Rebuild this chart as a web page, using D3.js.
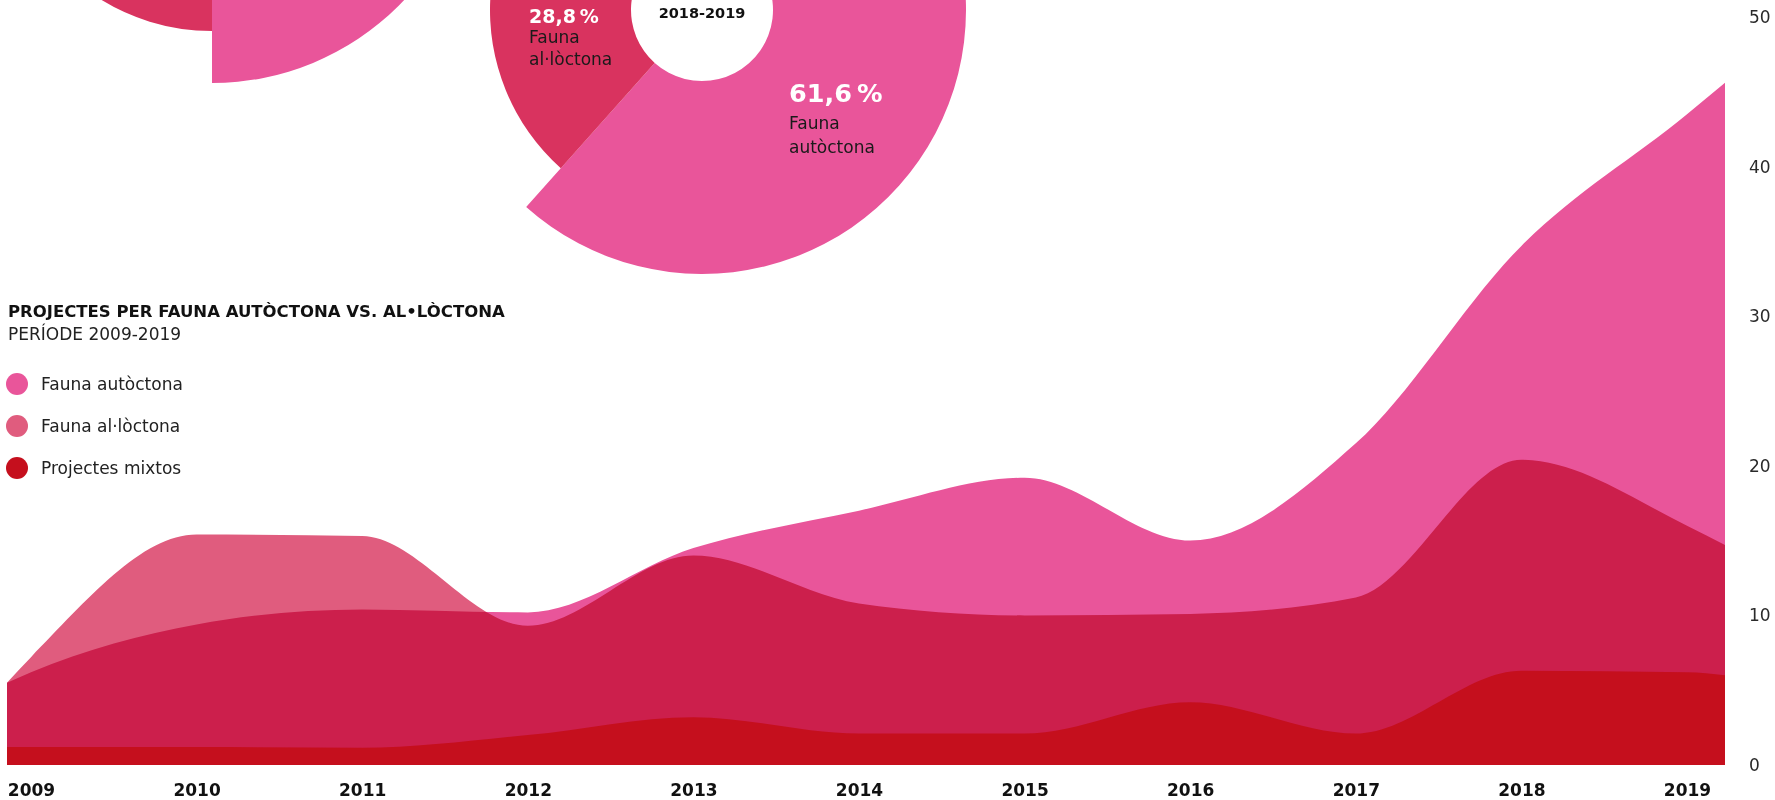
<!DOCTYPE html>
<html><head><meta charset="utf-8">
<script src="https://cdn.jsdelivr.net/npm/d3@7"></script>
<style>
html,body{margin:0;padding:0;background:#fff;overflow:hidden;}
svg{display:block;}
</style></head><body>
<svg id="chart" width="1775" height="800"></svg>
<script>
// ---------- DATA ----------
const years = [2009, 2010, 2011, 2012, 2013, 2014, 2015, 2016, 2017, 2018, 2019];
const autoctona = [6.2, 9.4, 10.4, 10.2, 14.5, 17.0, 19.2, 15.0, 21.5, 34.7, 43.5];
const alloctona = [7.2, 15.4, 15.3, 9.3, 14.0, 10.8, 10.0, 10.1, 11.2, 20.4, 16.0];
const mixtos    = [1.2, 1.2, 1.15, 2.0, 3.2, 2.1, 2.1, 4.2, 2.1, 6.3, 6.2];
// values where the areas meet the left / right edges of the plot (aut, al, mix)
const edgeStart = [5.5, 5.5, 1.2];
const edgeEnd   = [45.6, 14.7, 6.0];
const yTicks = [0, 10, 20, 30, 40, 50];
const seriesNames = ["Fauna autòctona", "Fauna al·lòctona", "Projectes mixtos"];
const donutPrev = [50.0, 38.0, 12.0];   // earlier period (mostly outside the view)
const donutLast = [61.6, 28.8, 9.6];    // 2018-2019
const donutLastTitle = "2018-2019";
const title = "PROJECTES PER FAUNA AUTÒCTONA VS. AL•LÒCTONA";
const subtitle = "PERÍODE 2009-2019";

// ---------- STYLE ----------
const FONT = '"DejaVu Sans", sans-serif';
const C_AUT = "#E9559A", C_AL = "#E05C7E", C_MIX = "#C50F1D", C_AL_DONUT = "#D9335F";

const svg = d3.select("#chart");

// ---------- AREA CHART ----------
const plotLeft = 7, plotRight = 1725;
const x = d3.scaleLinear().domain([2009, 2019]).range([31, 1687]);
const y = d3.scaleLinear().domain([0, 50]).range([765, 17]);

function pts(vals, i) {
  const p = [{px: plotLeft, v: edgeStart[i]}];
  vals.forEach((v, k) => p.push({px: x(years[k]), v}));
  p.push({px: plotRight, v: edgeEnd[i]});
  return p;
}
const area = d3.area().x(d => d.px).y0(y(0)).y1(d => y(d.v)).curve(d3.curveMonotoneX);

const gA = svg.append("g");
gA.append("path").attr("d", area(pts(autoctona, 0))).attr("fill", C_AUT);
gA.append("path").attr("d", area(pts(alloctona, 1))).attr("fill", C_AL)
  .style("mix-blend-mode", "multiply");
gA.append("path").attr("d", area(pts(mixtos, 2))).attr("fill", C_MIX);

// y axis (right)
const yAxis = svg.append("g").attr("transform", "translate(1749,0)")
  .call(d3.axisRight(y).tickValues(yTicks).tickSize(0).tickPadding(0));
yAxis.select(".domain").remove();
yAxis.selectAll("text").attr("font-family", FONT).attr("font-size", 17)
  .attr("fill", "#2a2a2a").attr("x", 0);

// x axis
const xAxis = svg.append("g").attr("transform", "translate(0,784)")
  .call(d3.axisBottom(x).tickValues(years).tickFormat(d3.format("d")).tickSize(0).tickPadding(0));
xAxis.select(".domain").remove();
xAxis.selectAll("text").attr("font-family", FONT).attr("font-size", 17)
  .attr("font-weight", "bold").attr("fill", "#111");

// title + legend
svg.append("text").attr("x", 8).attr("y", 317).attr("font-family", FONT)
  .attr("font-size", 16.5).attr("font-weight", "bold").attr("fill", "#111").text(title);
svg.append("text").attr("x", 8).attr("y", 340).attr("font-family", FONT)
  .attr("font-size", 17).attr("fill", "#222").text(subtitle);

const legColors = [C_AUT, C_AL, C_MIX];
const leg = svg.append("g").selectAll("g").data(seriesNames).join("g")
  .attr("transform", (d, i) => `translate(17,${384 + i * 42})`);
leg.append("circle").attr("r", 11).attr("fill", (d, i) => legColors[i]);
leg.append("text").attr("x", 24).attr("dy", "0.35em").attr("font-family", FONT)
  .attr("font-size", 17).attr("fill", "#222").text(d => d);

// ---------- DONUTS ----------
const pie = d3.pie().sort(null).value(d => d);
const radii = [264, 212, 170];
const donutColors = [C_AUT, C_AL_DONUT, C_MIX];
function donut(vals, cx, cy) {
  const g = svg.append("g").attr("transform", `translate(${cx},${cy})`);
  g.selectAll("path").data(pie(vals)).join("path")
    .attr("d", (d, i) => d3.arc().innerRadius(71).outerRadius(radii[i])(d))
    .attr("fill", (d, i) => donutColors[i]);
  return g;
}
donut(donutPrev, 212, -181);
const g2 = donut(donutLast, 702, 10);

const fmt = v => d3.format(".1f")(v).replace(".", ",") + "\u202F%";
g2.append("text").attr("x", 0).attr("y", 8).attr("text-anchor", "middle")
  .attr("font-family", FONT).attr("font-size", 14.5).attr("font-weight", "bold")
  .attr("fill", "#111").text(donutLastTitle);

// al·lòctona label
g2.append("text").attr("x", -173).attr("y", 13).attr("font-family", FONT)
  .attr("font-size", 19).attr("font-weight", "bold").attr("fill", "#fff").text(fmt(donutLast[1]));
g2.append("text").attr("x", -173).attr("y", 33).attr("font-family", FONT)
  .attr("font-size", 17).attr("fill", "#1a1a1a").text("Fauna");
g2.append("text").attr("x", -173).attr("y", 55).attr("font-family", FONT)
  .attr("font-size", 17).attr("fill", "#1a1a1a").text("al·lòctona");

// autòctona label
g2.append("text").attr("x", 87).attr("y", 92).attr("font-family", FONT)
  .attr("font-size", 25.5).attr("font-weight", "bold").attr("fill", "#fff").text(fmt(donutLast[0]));
g2.append("text").attr("x", 87).attr("y", 119).attr("font-family", FONT)
  .attr("font-size", 17).attr("fill", "#1a1a1a").text("Fauna");
g2.append("text").attr("x", 87).attr("y", 143).attr("font-family", FONT)
  .attr("font-size", 17).attr("fill", "#1a1a1a").text("autòctona");
</script>
</body></html>
